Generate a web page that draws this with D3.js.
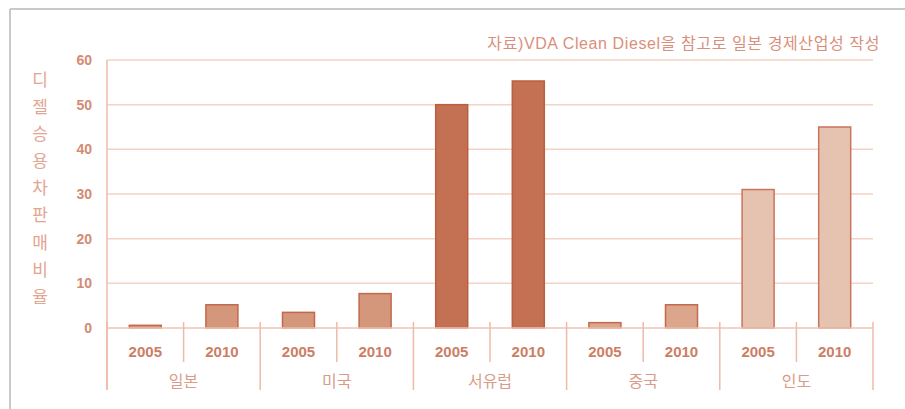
<!DOCTYPE html>
<html>
<head>
<meta charset="utf-8">
<script src="https://cdn.jsdelivr.net/npm/d3@7"></script>
<style>
  body { margin: 0; background: #fff; }
  text { font-family: "Liberation Sans", "Noto Sans CJK KR", sans-serif; }
</style>
</head>
<body>
<div id="chart"></div>
<script>
// data
const regions = ["일본", "미국", "서유럽", "중국", "인도"];
const years = ["2005", "2010"];
const share2005 = [0.6, 3.5, 50, 1.2, 31];
const share2010 = [5.2, 7.7, 55.3, 5.2, 45];
const yTicks = [0, 10, 20, 30, 40, 50, 60];
const yTitle = "디젤승용차판매비율";
const source = "자료)VDA Clean Diesel을 참고로 일본 경제산업성 작성";

// fill / stroke by region
const fills = ["#d5977c", "#d5977c", "#c47052", "#dca68d", "#e6c3b1"];
const strokes = ["#c2694c", "#c2694c", "#b9603f", "#c2694c", "#cc735a"];

const W = 905, H = 409;
const margin = {top: 60, right: 32, bottom: 81, left: 107};

const svg = d3.select("#chart").append("svg")
  .attr("width", W)
  .attr("height", H);

// outer frame (grey top & left edge)
svg.append("line").attr("x1", 10).attr("x2", W).attr("y1", 9).attr("y2", 9)
  .attr("stroke", "#c9c9c9").attr("stroke-width", 2);
svg.append("line").attr("x1", 10).attr("x2", 10).attr("y1", 9).attr("y2", H)
  .attr("stroke", "#c9c9c9").attr("stroke-width", 2);

const x0 = d3.scaleBand()
  .domain(regions)
  .range([margin.left, W - margin.right]);

const x1 = d3.scaleBand()
  .domain(years)
  .range([0, x0.bandwidth()]);

const y = d3.scaleLinear()
  .domain([0, 60])
  .range([H - margin.bottom, margin.top]);

const g = svg.append("g");

// gridlines
g.selectAll(".grid")
  .data(yTicks.filter(d => d > 0))
  .join("line")
  .attr("x1", margin.left)
  .attr("x2", W - margin.right)
  .attr("y1", d => y(d))
  .attr("y2", d => y(d))
  .attr("stroke", "#f3d3c5")
  .attr("stroke-width", 1.5);

// y tick labels
g.selectAll(".ytick")
  .data(yTicks)
  .join("text")
  .attr("x", 92)
  .attr("y", d => y(d))
  .attr("dy", "0.35em")
  .attr("text-anchor", "end")
  .attr("font-size", 14)
  .attr("font-weight", "bold")
  .attr("fill", "#d38b73")
  .text(d => d);

// y axis title, stacked vertically
g.selectAll(".ytitle")
  .data(yTitle.split(""))
  .join("text")
  .attr("x", 40)
  .attr("y", (d, i) => 80 + i * 27.1)
  .attr("dy", "0.35em")
  .attr("text-anchor", "middle")
  .attr("font-size", 17)
  .attr("fill", "#e2a592")
  .text(d => d);

// bars
const rows = [];
regions.forEach((r, i) => {
  rows.push({region: r, year: "2005", v: share2005[i], idx: i});
  rows.push({region: r, year: "2010", v: share2010[i], idx: i});
});

const barW = 32;
g.selectAll(".bar")
  .data(rows)
  .join("rect")
  .attr("x", d => x0(d.region) + x1(d.year) + x1.bandwidth() / 2 - barW / 2)
  .attr("y", d => y(d.v))
  .attr("width", barW)
  .attr("height", d => y(0) - y(d.v))
  .attr("fill", d => fills[d.idx])
  .attr("stroke", d => strokes[d.idx])
  .attr("stroke-width", 1.5);

// baseline and y axis line
g.append("line")
  .attr("x1", margin.left).attr("x2", W - margin.right)
  .attr("y1", y(0)).attr("y2", y(0))
  .attr("stroke", "#f0c4b4").attr("stroke-width", 1.5);
g.append("line")
  .attr("x1", margin.left).attr("x2", margin.left)
  .attr("y1", margin.top).attr("y2", 390)
  .attr("stroke", "#eebba9").attr("stroke-width", 1.5);

// separators: short between years, long between regions
const seps = [];
regions.forEach(r => {
  seps.push({x: x0(r), long: true});
  seps.push({x: x0(r) + x1("2010"), long: false});
});
seps.push({x: W - margin.right, long: true});

g.selectAll(".sep")
  .data(seps)
  .join("line")
  .attr("x1", d => d.x).attr("x2", d => d.x)
  .attr("y1", y(0) - 6)
  .attr("y2", d => d.long ? 390 : 362)
  .attr("stroke", "#eebba9")
  .attr("stroke-width", 1.5);

// year labels
g.selectAll(".year")
  .data(rows)
  .join("text")
  .attr("x", d => x0(d.region) + x1(d.year) + x1.bandwidth() / 2)
  .attr("y", 352)
  .attr("dy", "0.35em")
  .attr("text-anchor", "middle")
  .attr("font-size", 15)
  .attr("font-weight", "bold")
  .attr("fill", "#cc7e65")
  .text(d => d.year);

// region labels
g.selectAll(".region")
  .data(regions)
  .join("text")
  .attr("x", d => x0(d) + x0.bandwidth() / 2)
  .attr("y", 381)
  .attr("dy", "0.35em")
  .attr("text-anchor", "middle")
  .attr("font-size", 16)
  .attr("fill", "#d99c88")
  .text(d => d);

// source note
svg.append("text")
  .attr("x", 880)
  .attr("y", 43)
  .attr("dy", "0.35em")
  .attr("text-anchor", "end")
  .attr("font-size", 16)
  .attr("letter-spacing", "0.6px")
  .attr("fill", "#d98f7c")
  .text(source);
</script>
</body>
</html>
